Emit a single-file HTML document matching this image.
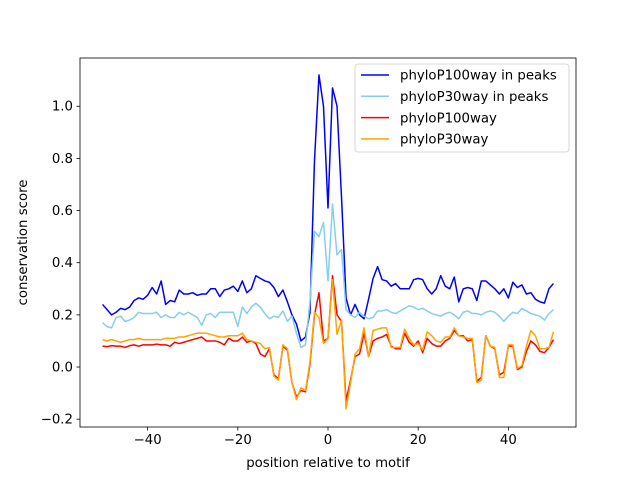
<!DOCTYPE html>
<html><head><meta charset="utf-8"><style>
body{margin:0;background:#fff}
svg{font-family:"DejaVu Sans","Liberation Sans",sans-serif}
</style></head><body>
<svg id="chart" width="640" height="480"></svg>
<script>
const xs=[];for(let i=-50;i<=50;i++)xs.push(i);
const peaks100=[0.24,0.22,0.20,0.21,0.225,0.22,0.23,0.255,0.265,0.26,0.275,0.305,0.28,0.33,0.24,0.255,0.25,0.295,0.28,0.28,0.285,0.275,0.28,0.28,0.30,0.30,0.27,0.295,0.30,0.31,0.29,0.33,0.285,0.30,0.35,0.34,0.33,0.325,0.305,0.27,0.295,0.25,0.2,0.165,0.10,0.115,0.21,0.79,1.12,1.0,0.61,1.07,1.0,0.65,0.265,0.2,0.24,0.20,0.185,0.26,0.34,0.385,0.335,0.33,0.31,0.32,0.30,0.30,0.30,0.335,0.34,0.335,0.30,0.28,0.30,0.35,0.31,0.30,0.345,0.25,0.30,0.305,0.30,0.255,0.33,0.33,0.315,0.30,0.28,0.30,0.265,0.325,0.305,0.315,0.28,0.285,0.26,0.25,0.245,0.30,0.32];
const peaks30=[0.17,0.155,0.15,0.19,0.195,0.175,0.18,0.19,0.21,0.205,0.205,0.205,0.21,0.19,0.2,0.19,0.19,0.21,0.2,0.21,0.2,0.19,0.16,0.2,0.205,0.19,0.21,0.21,0.21,0.21,0.155,0.23,0.205,0.23,0.245,0.23,0.205,0.185,0.195,0.19,0.215,0.175,0.195,0.13,0.075,0.085,0.25,0.52,0.5,0.555,0.33,0.625,0.43,0.45,0.22,0.2,0.19,0.21,0.195,0.185,0.19,0.215,0.215,0.22,0.21,0.205,0.215,0.225,0.235,0.23,0.22,0.225,0.215,0.205,0.2,0.195,0.205,0.21,0.2,0.185,0.21,0.215,0.205,0.205,0.2,0.21,0.215,0.21,0.195,0.175,0.195,0.21,0.205,0.225,0.215,0.205,0.2,0.195,0.18,0.205,0.22];
const all100=[0.08,0.078,0.082,0.08,0.08,0.075,0.082,0.085,0.08,0.085,0.085,0.085,0.088,0.085,0.085,0.08,0.095,0.09,0.095,0.10,0.105,0.11,0.115,0.10,0.10,0.10,0.095,0.085,0.11,0.10,0.10,0.115,0.095,0.10,0.09,0.05,0.04,0.07,-0.03,-0.045,0.08,0.065,-0.06,-0.115,-0.09,-0.095,0.01,0.2,0.285,0.1,0.11,0.35,0.2,0.175,-0.13,-0.05,0.04,0.05,0.13,0.04,0.10,0.11,0.115,0.125,0.08,0.07,0.07,0.13,0.095,0.08,0.10,0.055,0.11,0.09,0.08,0.08,0.1,0.11,0.14,0.12,0.12,0.10,0.105,-0.055,-0.04,0.12,0.08,0.07,-0.03,-0.02,0.08,0.08,-0.01,0.0,0.06,0.1,0.085,0.06,0.055,0.075,0.105];
const all30=[0.105,0.1,0.105,0.10,0.095,0.10,0.105,0.105,0.11,0.105,0.105,0.105,0.105,0.105,0.11,0.11,0.11,0.115,0.115,0.12,0.125,0.13,0.13,0.13,0.125,0.12,0.115,0.115,0.12,0.12,0.12,0.13,0.105,0.10,0.095,0.09,0.07,0.075,-0.035,-0.05,0.085,0.07,-0.06,-0.125,-0.08,-0.09,0.02,0.21,0.19,0.09,0.11,0.335,0.125,0.18,-0.16,-0.06,0.05,0.07,0.15,0.04,0.14,0.145,0.15,0.15,0.075,0.075,0.075,0.145,0.11,0.085,0.09,0.065,0.135,0.12,0.1,0.095,0.115,0.115,0.15,0.12,0.115,0.11,0.11,-0.06,-0.05,0.12,0.08,0.075,-0.04,-0.04,0.085,0.085,-0.005,0.005,0.08,0.14,0.12,0.07,0.07,0.075,0.135];
const xTicks=[-40,-20,0,20,40];
const yTicks=[-0.2,0.0,0.2,0.4,0.6,0.8,1.0];
const L=80,R=576,T=58,B=427,xmin=-55,xmax=55,ymin=-0.23,ymax=1.185;
const X=v=>L+(v-xmin)/(xmax-xmin)*(R-L);
const Y=v=>B-(v-ymin)/(ymax-ymin)*(B-T);
const NS='http://www.w3.org/2000/svg',svg=document.getElementById('chart');
function mk(t,a,p){const e=document.createElementNS(NS,t);for(const k in a)e.setAttribute(k,a[k]);(p||svg).appendChild(e);return e;}
const series=[[peaks100,'#0000ff','phyloP100way in peaks','series-phylop100way-peaks'],[peaks30,'#87ceeb','phyloP30way in peaks','series-phylop30way-peaks'],[all100,'#ff0000','phyloP100way','series-phylop100way'],[all30,'#ffa500','phyloP30way','series-phylop30way']];
series.forEach(s=>{
 const p=mk('polyline',{points:xs.map((x,i)=>X(x).toFixed(2)+','+Y(s[0][i]).toFixed(2)).join(' '),fill:'none',stroke:s[1],'stroke-width':1.5,'stroke-linejoin':'round'});
 
 
});
const fr=mk('rect',{x:L,y:T,width:R-L,height:B-T,fill:'none',stroke:'#000','stroke-width':0.8});


xTicks.forEach(t=>{
 mk('line',{x1:X(t),x2:X(t),y1:B,y2:B+3.5,stroke:'#000','stroke-width':0.8});
 const tx=mk('text',{x:X(t),y:B+17,'text-anchor':'middle','font-size':13.3});
 tx.textContent=t===0?'0':(t<0?'\u2212'+(-t):t);
 
 
});
yTicks.forEach(t=>{
 mk('line',{x1:L-3.5,x2:L,y1:Y(t),y2:Y(t),stroke:'#000','stroke-width':0.8});
 const tx=mk('text',{x:L-7,y:Y(t)+4.5,'text-anchor':'end','font-size':13.3});
 tx.textContent=(t<0?'\u2212':'')+Math.abs(t).toFixed(1);
 
 
});
const xl=mk('text',{x:(L+R)/2,y:467,'text-anchor':'middle','font-size':13.3});xl.textContent='position relative to motif';


const yl=mk('text',{x:0,y:0,'text-anchor':'middle','font-size':13.3,transform:'translate(27,'+((T+B)/2)+') rotate(-90)'});yl.textContent='conservation score';


const lg=mk('g',{});


mk('rect',{x:355,y:64,width:214,height:88,rx:3,fill:'#fff','fill-opacity':0.8,stroke:'#ccc','stroke-width':0.8},lg);
series.forEach((s,i)=>{
 const y=75+i*21.3;
 const g=mk('g',{},lg);
 
 
 mk('line',{x1:361,x2:389,y1:y,y2:y,stroke:s[1],'stroke-width':1.5},g);
 const t=mk('text',{x:400,y:y+4.7,'font-size':13.3},g);t.textContent=s[2];
});
</script>
</body></html>
